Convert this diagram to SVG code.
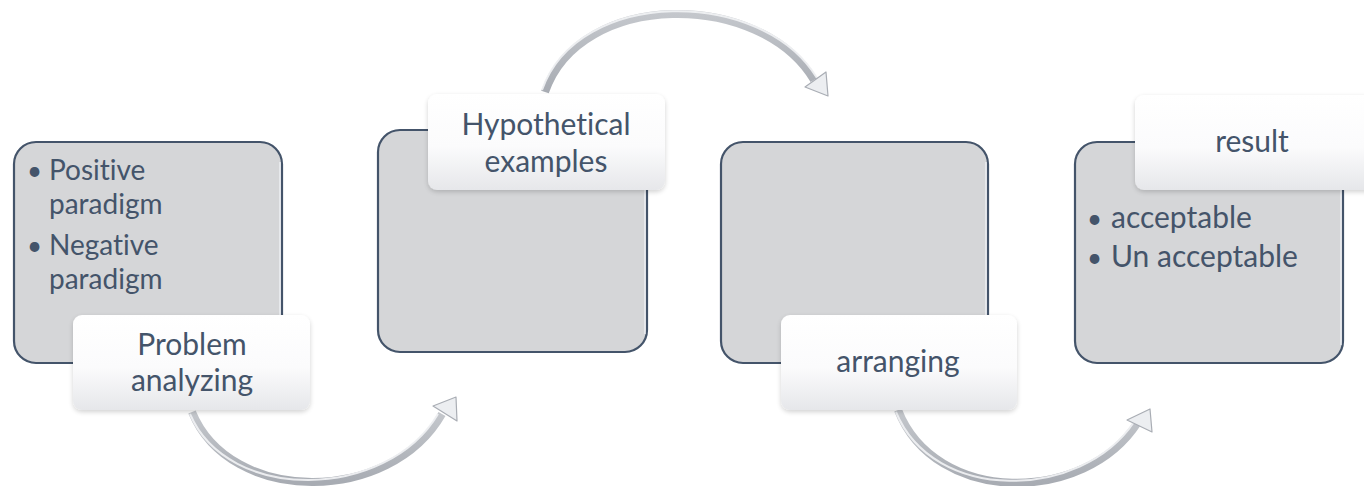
<svg xmlns="http://www.w3.org/2000/svg" width="1364" height="486" viewBox="0 0 1364 486">
  <defs>
    <style>
      .box { fill: #d5d6d8; stroke: #44546a; stroke-width: 2.2; }
      .bevel { fill: none; stroke: #f4f6fa; stroke-width: 1.5; opacity: 0.8; }
      .tag { fill: url(#tagFill); filter: url(#soft); }
      .txt { font-family: Lato, "Open Sans", "Liberation Sans", sans-serif; font-size: 30px; fill: #44546a; font-variant-ligatures: none; }
      .sm { font-size: 28px; }
      .dot { font-family: Lato, "Liberation Sans", sans-serif; font-size: 26px; fill: #44546a; }
      .mid { text-anchor: middle; }
      .band { fill: none; stroke: url(#bandFill); stroke-width: 8; stroke-linecap: butt; }
      .shine { fill: none; stroke: #f2f3f5; stroke-width: 2; opacity: 0.9; }
      .head { fill: #eceef1; stroke: #a9adb4; stroke-width: 1.2; stroke-linejoin: round; }
    </style>
    <linearGradient id="tagFill" x1="0" y1="0" x2="0" y2="1">
      <stop offset="0" stop-color="#ffffff"/>
      <stop offset="0.55" stop-color="#fbfbfc"/>
      <stop offset="1" stop-color="#e6e7ea"/>
    </linearGradient>
    <linearGradient id="bandFill" x1="0" y1="0" x2="0" y2="1">
      <stop offset="0" stop-color="#c4c7cc"/>
      <stop offset="1" stop-color="#a8acb3"/>
    </linearGradient>
    <filter id="soft" x="-10%" y="-10%" width="120%" height="130%">
      <feGaussianBlur in="SourceAlpha" stdDeviation="2.5"/>
      <feOffset dx="0" dy="2" result="b"/>
      <feComponentTransfer><feFuncA type="linear" slope="0.18"/></feComponentTransfer>
      <feMerge><feMergeNode/><feMergeNode in="SourceGraphic"/></feMerge>
    </filter>
  </defs>

  <rect width="1364" height="486" fill="#ffffff"/>

  <!-- curved connectors between the steps -->
  <g id="connectors">
    <path class="band" d="M192,412 C230,505 390,505 442,414"/>
    <path class="shine" d="M190,414 C228,503 386,501 438,414"/>
    <polygon class="head" points="433,406 456,397 457,421"/>

    <path class="band" d="M545,92 C580,-10 760,-10 814,80"/>
    <path class="shine" d="M542,90 C578,-13 762,-13 817,78"/>
    <polygon class="head" points="805,87 826,72 828,96"/>

    <path class="band" d="M898,410 C935,505 1085,505 1138,422"/>
    <path class="shine" d="M896,412 C933,503 1081,501 1134,422"/>
    <polygon class="head" points="1127,420 1150,409 1152,432"/>
  </g>

  <!-- step 1 -->
  <g id="step1">
    <rect class="box" x="14" y="142" width="268" height="221" rx="22"/>
    <path class="bevel" d="M280,162 V345"/>
    <text class="dot" x="27" y="180">•</text>
    <text class="txt sm" x="49" y="180">Positive</text>
    <text class="txt sm" x="49" y="214">paradigm</text>
    <text class="dot" x="27" y="255">•</text>
    <text class="txt sm" x="49" y="255">Negative</text>
    <text class="txt sm" x="49" y="289">paradigm</text>
    <rect class="tag" x="73" y="315" width="237" height="95" rx="9"/>
    <text class="txt mid" x="192" y="355">Problem</text>
    <text class="txt mid" x="192" y="391">analyzing</text>
  </g>

  <!-- step 2 -->
  <g id="step2">
    <rect class="box" x="378" y="130" width="269" height="222" rx="22"/>
    <path class="bevel" d="M645,150 V334"/>
    <rect class="tag" x="428" y="94" width="237" height="96" rx="9"/>
    <text class="txt mid" x="546" y="135">Hypothetical</text>
    <text class="txt mid" x="546" y="172">examples</text>
  </g>

  <!-- step 3 -->
  <g id="step3">
    <rect class="box" x="721" y="142" width="267" height="221" rx="22"/>
    <path class="bevel" d="M986,162 V345"/>
    <rect class="tag" x="781" y="315" width="236" height="95" rx="9"/>
    <text class="txt mid" x="898" y="372">arranging</text>
  </g>

  <!-- step 4 -->
  <g id="step4">
    <rect class="box" x="1075" y="142" width="268" height="221" rx="22"/>
    <path class="bevel" d="M1341,162 V345"/>
    <rect class="tag" x="1135" y="95" width="240" height="95" rx="9"/>
    <text class="txt mid" x="1252" y="152">result</text>
    <text class="dot" x="1087" y="228">•</text>
    <text class="txt" x="1111" y="228">acceptable</text>
    <text class="dot" x="1087" y="267">•</text>
    <text class="txt" x="1111" y="267">Un acceptable</text>
  </g>
</svg>
